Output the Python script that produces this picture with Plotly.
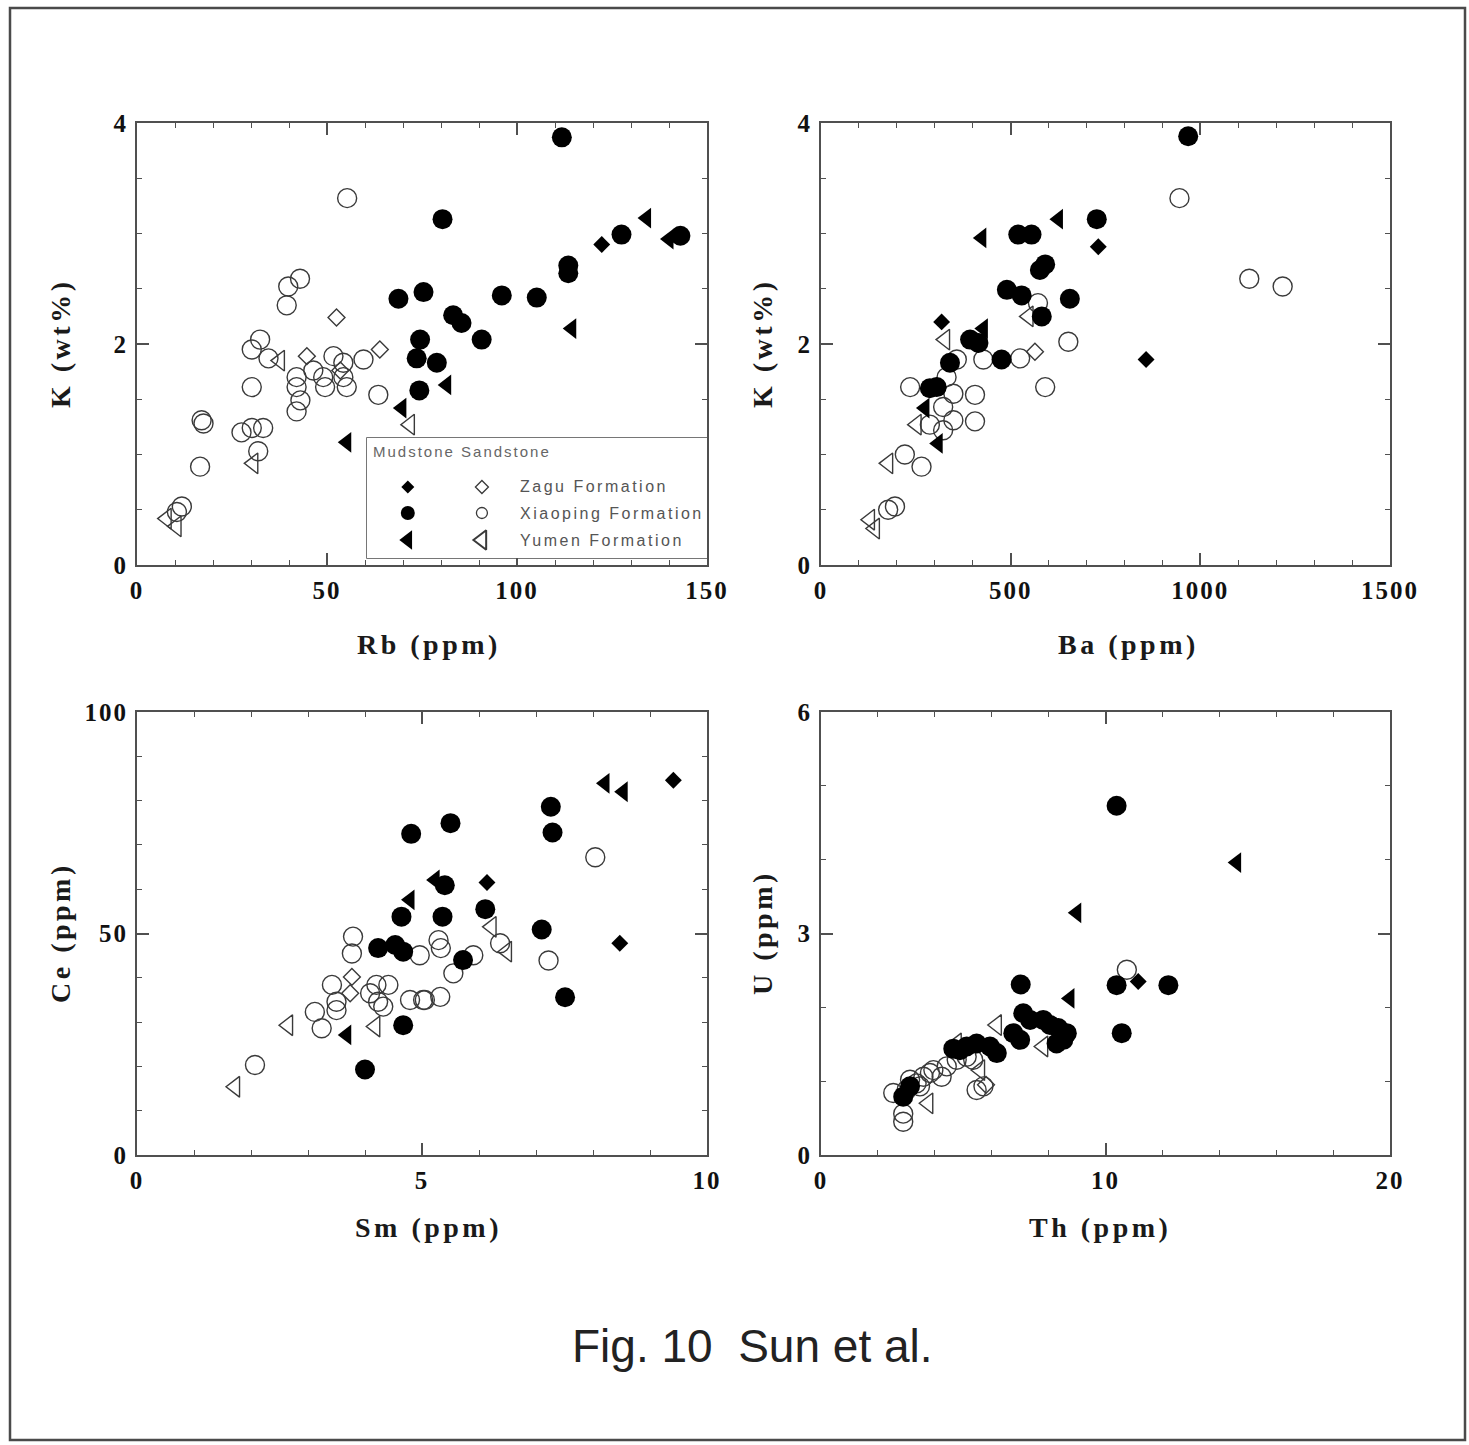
import plotly.graph_objects as go

W, H = 1469, 1445

# ---------------- Rb (ppm) vs K (wt%) ----------------
rbk_zagu_mud_x = [122.3]
rbk_zagu_mud_y = [2.90]
rbk_zagu_sand_x = [52.5, 44.7, 63.9, 53.5]
rbk_zagu_sand_y = [2.24, 1.89, 1.95, 1.76]
rbk_xiao_mud_x = [111.8, 80.4, 127.5, 143.0, 113.5, 113.5, 96.0, 105.2, 83.2, 85.4,
                  90.7, 75.4, 68.8, 74.5, 73.6, 74.3, 78.9]
rbk_xiao_mud_y = [3.87, 3.13, 2.99, 2.98, 2.71, 2.64, 2.44, 2.42, 2.26, 2.19,
                  2.04, 2.47, 2.41, 2.04, 1.87, 1.58, 1.83]
rbk_xiao_sand_x = [55.3, 42.9, 39.8, 39.4, 32.4, 30.2, 34.6, 51.7, 54.3, 59.6,
                   42.0, 42.0, 43.0, 42.0, 46.4, 49.0, 49.5, 54.3, 55.2, 30.2,
                   63.5, 17.0, 17.5, 27.5, 30.2, 33.2, 31.9, 16.6, 11.8, 10.5]
rbk_xiao_sand_y = [3.32, 2.59, 2.52, 2.35, 2.04, 1.95, 1.87, 1.89, 1.83, 1.86,
                   1.70, 1.61, 1.49, 1.39, 1.76, 1.70, 1.61, 1.70, 1.61, 1.61,
                   1.54, 1.31, 1.28, 1.20, 1.24, 1.24, 1.03, 0.89, 0.53, 0.48]
rbk_yumen_mud_x = [134.1, 140.0, 114.4, 81.5, 69.7, 55.2]
rbk_yumen_mud_y = [3.14, 2.95, 2.14, 1.63, 1.42, 1.11]
rbk_yumen_sand_x = [37.6, 71.8, 30.6, 7.8, 10.4]
rbk_yumen_sand_y = [1.85, 1.27, 0.92, 0.42, 0.35]

# ---------------- Ba (ppm) vs K (wt%) ----------------
bak_zagu_mud_x = [731, 318, 857]
bak_zagu_mud_y = [2.88, 2.20, 1.86]
bak_zagu_sand_x = [564]
bak_zagu_sand_y = [1.93]
bak_xiao_mud_x = [968, 727, 520, 555, 591, 577, 490, 529, 656, 582, 393, 415, 476, 340, 287, 305]
bak_xiao_mud_y = [3.88, 3.13, 2.99, 2.99, 2.72, 2.67, 2.49, 2.44, 2.41, 2.25, 2.04, 2.01, 1.86, 1.83, 1.60, 1.61]
bak_xiao_sand_x = [945, 1129, 1217, 572, 652, 428, 525, 591, 358, 235, 331,
                   349, 406, 322, 349, 406, 287, 322, 221, 265, 195, 177]
bak_xiao_sand_y = [3.32, 2.59, 2.52, 2.37, 2.02, 1.86, 1.87, 1.61, 1.86, 1.61, 1.70,
                   1.55, 1.54, 1.43, 1.31, 1.30, 1.27, 1.22, 1.00, 0.89, 0.53, 0.50]
bak_yumen_mud_x = [626, 424, 428, 274, 309]
bak_yumen_mud_y = [3.13, 2.96, 2.14, 1.42, 1.10]
bak_yumen_sand_x = [547, 327, 252, 177, 129, 142]
bak_yumen_sand_y = [2.25, 2.04, 1.27, 0.92, 0.41, 0.33]

# ---------------- Sm (ppm) vs Ce (ppm) ----------------
smce_zagu_mud_x = [9.41, 6.14, 8.47]
smce_zagu_mud_y = [84.6, 61.5, 47.8]
smce_zagu_sand_x = [3.77, 3.74]
smce_zagu_sand_y = [40.2, 36.5]
smce_xiao_mud_x = [4.81, 4.64, 4.23, 4.53, 4.67, 4.67, 4.00, 7.26, 7.29, 5.50,
                   5.40, 5.36, 6.11, 7.10, 7.51, 5.72]
smce_xiao_mud_y = [72.5, 53.8, 46.7, 47.4, 45.9, 29.3, 19.3, 78.6, 72.8, 74.9,
                   60.9, 53.8, 55.5, 50.9, 35.6, 44.0]
smce_xiao_sand_x = [3.79, 3.77, 4.96, 3.42, 3.50, 3.50, 3.12, 3.24, 4.20, 4.41,
                    4.23, 4.32, 4.09, 4.79, 5.02, 2.07, 8.04, 7.22, 5.90, 5.55,
                    5.29, 5.33, 5.05, 5.32, 6.37]
smce_xiao_sand_y = [49.3, 45.5, 45.1, 38.4, 34.6, 32.7, 32.3, 28.6, 38.4, 38.4,
                    34.6, 33.5, 36.5, 35.0, 35.0, 20.3, 67.2, 43.9, 45.1, 41.0,
                    48.5, 46.7, 35.0, 35.7, 47.8]
smce_yumen_mud_x = [4.79, 5.23, 8.21, 8.53, 3.68]
smce_yumen_mud_y = [57.6, 62.1, 83.9, 82.0, 27.1]
smce_yumen_sand_x = [6.22, 6.49, 4.18, 2.65, 1.72]
smce_yumen_sand_y = [51.5, 45.9, 29.0, 29.3, 15.4]

# ---------------- Th (ppm) vs U (ppm) ----------------
thu_zagu_mud_x = [11.15]
thu_zagu_mud_y = [2.35]
thu_zagu_sand_x = [5.8]
thu_zagu_sand_y = [0.95]
thu_xiao_mud_x = [10.39, 7.02, 10.39, 12.21, 10.57, 7.11, 7.35, 7.81, 8.05, 8.34,
                  8.64, 8.52, 8.28, 7.00, 6.76, 6.18, 5.94, 5.47, 5.12, 4.88,
                  4.65, 2.89, 3.13]
thu_xiao_mud_y = [4.73, 2.31, 2.30, 2.30, 1.65, 1.92, 1.83, 1.83, 1.76, 1.72,
                  1.65, 1.56, 1.51, 1.56, 1.65, 1.38, 1.47, 1.51, 1.47, 1.42,
                  1.44, 0.79, 0.93]
thu_xiao_sand_x = [10.75, 5.47, 5.71, 2.89, 2.89, 2.54, 3.01, 3.36, 3.60, 3.95,
                   4.24, 4.42, 3.13, 3.48, 3.83, 4.77, 5.12, 5.35]
thu_xiao_sand_y = [2.51, 0.88, 0.93, 0.45, 0.56, 0.84, 0.88, 0.97, 1.06, 1.15,
                   1.06, 1.20, 1.02, 0.93, 1.11, 1.29, 1.33, 1.29]
thu_yumen_mud_x = [14.61, 8.99, 8.75]
thu_yumen_mud_y = [3.96, 3.28, 2.12]
thu_yumen_sand_x = [6.18, 7.81, 4.77, 5.59, 3.77]
thu_yumen_sand_y = [1.76, 1.47, 1.51, 1.15, 0.70]

# Axis labels and tick settings
x_titles = ["Rb (ppm)", "Ba (ppm)", "Sm (ppm)", "Th (ppm)"]
y_titles = ["K (wt%)", "K (wt%)", "Ce (ppm)", "U (ppm)"]
x_ticks = [[0, 50, 100, 150], [0, 500, 1000, 1500], [0, 5, 10], [0, 10, 20]]
y_ticks = [[0, 2, 4], [0, 2, 4], [0, 50, 100], [0, 3, 6]]
x_minor = [10, 100, 1, 2]
y_minor = [0.5, 0.5, 10, 1]

formations = ["Zagu Formation", "Xiaoping Formation", "Yumen Formation"]
legend_header = "Mudstone Sandstone"
caption = "Fig. 10  Sun et al."

panels = [
    [(rbk_zagu_sand_x, rbk_zagu_sand_y, "zagu_sand"), (rbk_xiao_sand_x, rbk_xiao_sand_y, "xiao_sand"),
     (rbk_yumen_sand_x, rbk_yumen_sand_y, "yumen_sand"), (rbk_zagu_mud_x, rbk_zagu_mud_y, "zagu_mud"),
     (rbk_xiao_mud_x, rbk_xiao_mud_y, "xiao_mud"), (rbk_yumen_mud_x, rbk_yumen_mud_y, "yumen_mud")],
    [(bak_zagu_sand_x, bak_zagu_sand_y, "zagu_sand"), (bak_xiao_sand_x, bak_xiao_sand_y, "xiao_sand"),
     (bak_yumen_sand_x, bak_yumen_sand_y, "yumen_sand"), (bak_zagu_mud_x, bak_zagu_mud_y, "zagu_mud"),
     (bak_xiao_mud_x, bak_xiao_mud_y, "xiao_mud"), (bak_yumen_mud_x, bak_yumen_mud_y, "yumen_mud")],
    [(smce_zagu_sand_x, smce_zagu_sand_y, "zagu_sand"), (smce_xiao_sand_x, smce_xiao_sand_y, "xiao_sand"),
     (smce_yumen_sand_x, smce_yumen_sand_y, "yumen_sand"), (smce_zagu_mud_x, smce_zagu_mud_y, "zagu_mud"),
     (smce_xiao_mud_x, smce_xiao_mud_y, "xiao_mud"), (smce_yumen_mud_x, smce_yumen_mud_y, "yumen_mud")],
    [(thu_zagu_sand_x, thu_zagu_sand_y, "zagu_sand"), (thu_xiao_sand_x, thu_xiao_sand_y, "xiao_sand"),
     (thu_yumen_sand_x, thu_yumen_sand_y, "yumen_sand"), (thu_zagu_mud_x, thu_zagu_mud_y, "zagu_mud"),
     (thu_xiao_mud_x, thu_xiao_mud_y, "xiao_mud"), (thu_yumen_mud_x, thu_yumen_mud_y, "yumen_mud")],
]

OUTLINE = "#3a3a3a"
STYLE = {
    "zagu_mud":   dict(symbol="diamond", size=13, color="black", line=dict(width=0)),
    "zagu_sand":  dict(symbol="diamond-open", size=13, color=OUTLINE, line=dict(width=1.4)),
    "xiao_mud":   dict(symbol="circle", size=20, color="black", line=dict(width=0)),
    "xiao_sand":  dict(symbol="circle-open", size=19, color=OUTLINE, line=dict(width=1.4)),
    "yumen_mud":  dict(symbol="triangle-left", size=18, color="black", line=dict(width=0)),
    "yumen_sand": dict(symbol="triangle-left-open", size=18, color=OUTLINE, line=dict(width=1.4)),
}


def px_x(p):
    return p / W


def px_y(p):
    return 1 - p / H


def spaced(v, gap=2):
    return f"<span style='letter-spacing:{gap}px'>{v}</span>"


# Plot boxes in pixels: (left, right, top, bottom)
boxes = [(137, 707, 123, 565), (821, 1390, 123, 565),
         (137, 707, 712, 1155), (821, 1390, 712, 1155)]

fig = go.Figure()
layout = dict(width=W, height=H, autosize=False, margin=dict(l=0, r=0, t=0, b=0, pad=0),
              paper_bgcolor="white", plot_bgcolor="white", showlegend=False)

AX_COLOR = "#505050"
TICK_FONT = dict(family="Liberation Serif", size=25, color="#111111", weight="bold")

for i, (series, box) in enumerate(zip(panels, boxes)):
    n = i + 1
    xa = "x" if n == 1 else f"x{n}"
    ya = "y" if n == 1 else f"y{n}"
    for xs, ys, key in series:
        fig.add_trace(go.Scatter(x=xs, y=ys, mode="markers", xaxis=xa, yaxis=ya,
                                 marker=STYLE[key], cliponaxis=False, hoverinfo="skip"))
    l, r, t, b = box
    common = dict(showgrid=False, zeroline=False, showline=True, linecolor=AX_COLOR,
                  linewidth=2, mirror="allticks", ticks="inside", ticklen=12,
                  tickwidth=1.5, tickcolor=AX_COLOR, tickfont=TICK_FONT, automargin=False)
    xt, yt = x_ticks[i], y_ticks[i]
    layout["xaxis" if n == 1 else f"xaxis{n}"] = dict(
        common, domain=[px_x(l), px_x(r)], range=[xt[0], xt[-1]],
        tickmode="array", tickvals=xt, ticktext=[spaced(v) for v in xt],
        anchor=ya, ticklabelstandoff=2,
        minor=dict(ticks="inside", ticklen=5, dtick=x_minor[i], tick0=0,
                   tickcolor=AX_COLOR, tickwidth=1.2, showgrid=False))
    layout["yaxis" if n == 1 else f"yaxis{n}"] = dict(
        common, domain=[px_y(b), px_y(t)], range=[yt[0], yt[-1]],
        tickmode="array", tickvals=yt, ticktext=[spaced(v) for v in yt],
        anchor=xa, ticklabelstandoff=2,
        minor=dict(ticks="inside", ticklen=5, dtick=y_minor[i], tick0=0,
                   tickcolor=AX_COLOR, tickwidth=1.2, showgrid=False))

annotations = []
TITLE_FONT = dict(family="Liberation Serif", size=28, color="#1a1a1a", weight="bold")
x_title_px = [(429, 645), (1128, 645), (428, 1227), (1100, 1227)]
y_title_px = [(60, 344), (762, 344), (60, 933), (762, 933)]
for i in range(4):
    annotations.append(dict(
        text=spaced(x_titles[i], 3.5),
        x=px_x(x_title_px[i][0]), y=px_y(x_title_px[i][1]), xref="paper", yref="paper",
        showarrow=False, font=TITLE_FONT, xanchor="center", yanchor="middle"))
    annotations.append(dict(
        text=spaced(y_titles[i], 3.5),
        x=px_x(y_title_px[i][0]), y=px_y(y_title_px[i][1]), xref="paper", yref="paper",
        showarrow=False, font=TITLE_FONT, textangle=-90, xanchor="center", yanchor="middle"))

# Legend box inside the Rb-K panel, built on its own unit axes
leg_l, leg_r, leg_t, leg_b = 367, 707, 438, 558
layout["xaxis5"] = dict(domain=[px_x(leg_l), px_x(leg_r)], range=[0, 1], visible=False, anchor="y5")
layout["yaxis5"] = dict(domain=[px_y(leg_b), px_y(leg_t)], range=[0, 1], visible=False, anchor="x5")

leg_rows = [0.592, 0.375, 0.15]
leg_col_mud, leg_col_sand, leg_col_text = 0.12, 0.338, 0.444
leg_mud_style = [dict(symbol="diamond", size=10, color="black"),
                 dict(symbol="circle", size=14, color="black"),
                 dict(symbol="triangle-left", size=17, color="black")]
leg_sand_style = [dict(symbol="diamond-open", size=10, color=OUTLINE, line=dict(width=1.3)),
                  dict(symbol="circle-open", size=11, color=OUTLINE, line=dict(width=1.3)),
                  dict(symbol="triangle-left-open", size=17, color=OUTLINE, line=dict(width=2))]

shapes = [
    dict(type="rect", xref="paper", yref="paper", x0=px_x(leg_l), x1=px_x(leg_r),
         y0=px_y(leg_b), y1=px_y(leg_t), line=dict(color="#4a4a4a", width=1.5),
         fillcolor="white", layer="below"),
    dict(type="rect", xref="paper", yref="paper", x0=px_x(10), x1=px_x(1465),
         y0=px_y(1440), y1=px_y(8), line=dict(color="#4a4a4a", width=2.5)),
]

for k in range(3):
    fig.add_trace(go.Scatter(x=[leg_col_mud], y=[leg_rows[k]], mode="markers", xaxis="x5", yaxis="y5",
                             marker=leg_mud_style[k], cliponaxis=False, hoverinfo="skip"))
    fig.add_trace(go.Scatter(x=[leg_col_sand], y=[leg_rows[k]], mode="markers", xaxis="x5", yaxis="y5",
                             marker=leg_sand_style[k], cliponaxis=False, hoverinfo="skip"))
    annotations.append(dict(text=spaced(formations[k], 2.5),
                            x=leg_col_text, y=leg_rows[k], xref="x5", yref="y5",
                            showarrow=False, xanchor="left", yanchor="middle",
                            font=dict(family="Liberation Sans", size=16, color="#555555")))
annotations.append(dict(text=spaced(legend_header, 2),
                        x=0.012, y=0.89, xref="x5", yref="y5", showarrow=False,
                        xanchor="left", yanchor="middle",
                        font=dict(family="Liberation Sans", size=15, color="#666666")))

annotations.append(dict(text=caption, x=px_x(752), y=px_y(1346), xref="paper", yref="paper",
                        showarrow=False, xanchor="center", yanchor="middle",
                        font=dict(family="Liberation Sans", size=46, color="#222222")))

layout["annotations"] = annotations
layout["shapes"] = shapes
fig.update_layout(**layout)

# Page without the default body margin so the figure fills the window exactly
fig.write_html("out.html", config={"responsive": False, "displayModeBar": False},
               post_script="document.body.style.margin='0';document.body.style.overflow='hidden';")
